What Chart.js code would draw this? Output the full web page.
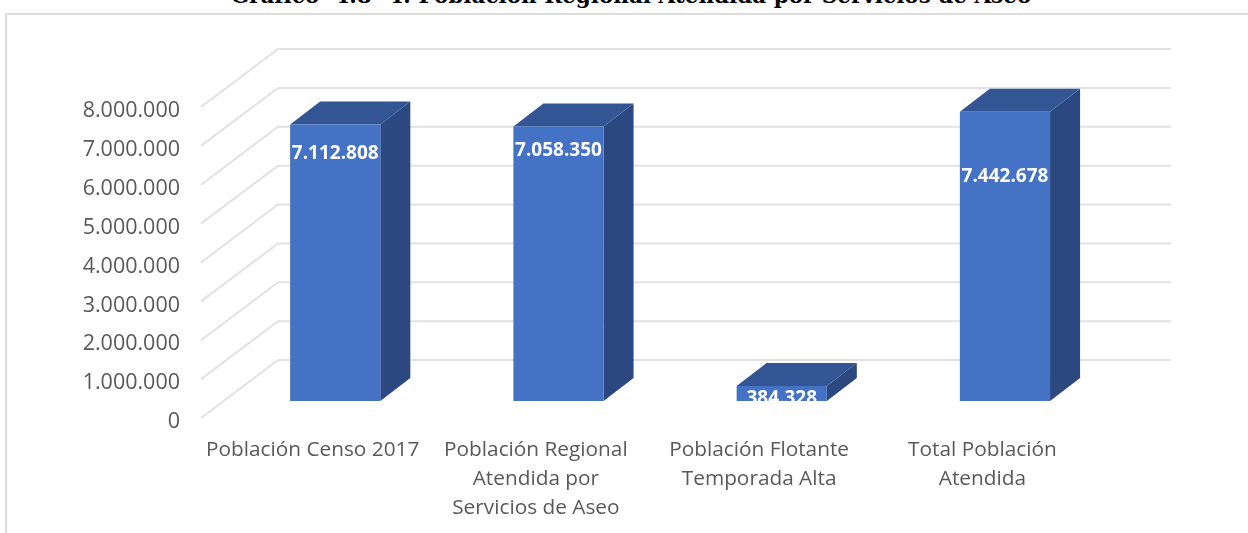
<!DOCTYPE html>
<html lang="es">
<head>
<meta charset="utf-8">
<title>Población Regional Atendida por Servicios de Aseo</title>
<script src="https://cdn.jsdelivr.net/npm/chart.js@4/dist/chart.umd.min.js"></script>
<style>
    html, body { margin: 0; padding: 0; background: #fff; overflow: hidden; }
    #wrap { position: relative; width: 1248px; height: 533px; overflow: hidden; }
    #frame { position: absolute; left: 5px; top: 13px; right: -4px; bottom: -4px; border: 2px solid #dcdcdc; }
    #chartTitle {
        position: absolute; left: 0; width: 1262px; top: -17px; text-align: center;
        font: bold 21.5px "DejaVu Serif", serif; color: #000; white-space: pre;
    }
    canvas { position: absolute; left: 0; top: 0; }
</style>
</head>
<body>
<div id="wrap">
    <div id="frame"></div>
    <div id="chartTitle">Gráfico  4.8- 4: Población Regional Atendida por Servicios de Aseo</div>
    <canvas id="poblacionChart" width="1248" height="533"></canvas>
</div>
<script>
const categories = [
    'Población Censo 2017',
    ['Población Regional', 'Atendida por', 'Servicios de Aseo'],
    ['Población Flotante', 'Temporada Alta'],
    ['Total Población', 'Atendida']
];
const poblacion = [7112808, 7058350, 384328, 7442678];
const yMax = 8000000;
const yStep = 1000000;

// label distance below each bar top, placed by hand in the original
const labelDrop = [29, 24, 13, 65];

// 3D look: front plane -> back wall, and bars sit part of the way in
const wallDepth = { x: 77, y: -58 };
const barShift = { x: 22.6, y: -17 };
const barDepth = { x: 30, y: -23 };

const formatMiles = (v) => String(v).replace(/\B(?=(\d{3})+(?!\d))/g, '.');

const walls3d = {
    id: 'walls3d',
    beforeDatasetsDraw(chart) {
        const { ctx, chartArea, scales: { y } } = chart;
        ctx.save();
        ctx.strokeStyle = '#e2e2e2';
        ctx.lineWidth = 2;
        y.ticks.forEach((tick) => {
            const py = y.getPixelForValue(tick.value);
            ctx.beginPath();
            ctx.moveTo(chartArea.left, py);
            ctx.lineTo(chartArea.left + wallDepth.x, py + wallDepth.y);
            ctx.lineTo(chartArea.right + wallDepth.x, py + wallDepth.y);
            ctx.stroke();
        });
        ctx.restore();
    }
};

const bars3d = {
    id: 'bars3d',
    beforeDatasetDraw(chart) {
        const { ctx } = chart;
        ctx.save();
        ctx.translate(barShift.x, barShift.y);
        chart.getDatasetMeta(0).data.forEach((bar) => {
            const left = bar.x - bar.width / 2;
            const right = bar.x + bar.width / 2;
            // side
            ctx.fillStyle = '#2b4880';
            ctx.beginPath();
            ctx.moveTo(right, bar.y);
            ctx.lineTo(right + barDepth.x, bar.y + barDepth.y);
            ctx.lineTo(right + barDepth.x, bar.base + barDepth.y);
            ctx.lineTo(right, bar.base);
            ctx.closePath();
            ctx.fill();
            // top
            ctx.fillStyle = '#335594';
            ctx.beginPath();
            ctx.moveTo(left, bar.y);
            ctx.lineTo(left + barDepth.x, bar.y + barDepth.y);
            ctx.lineTo(right + barDepth.x, bar.y + barDepth.y);
            ctx.lineTo(right, bar.y);
            ctx.closePath();
            ctx.fill();
        });
    },
    afterDatasetDraw(chart) {
        const { ctx } = chart;
        ctx.font = 'bold 19px "Open Sans", sans-serif';
        ctx.fillStyle = '#fff';
        ctx.textAlign = 'center';
        ctx.textBaseline = 'middle';
        chart.getDatasetMeta(0).data.forEach((bar, i) => {
            ctx.fillText(formatMiles(poblacion[i]), bar.x, bar.y + labelDrop[i]);
        });
        ctx.restore();
    }
};

new Chart(document.getElementById('poblacionChart'), {
    type: 'bar',
    data: {
        labels: categories,
        datasets: [{
            data: poblacion,
            backgroundColor: '#4472c4',
            categoryPercentage: 1,
            barPercentage: 0.404
        }]
    },
    options: {
        responsive: false,
        animation: false,
        layout: { padding: { top: 107, right: 154, bottom: 0, left: 0 } },
        plugins: { legend: { display: false }, tooltip: { enabled: false } },
        scales: {
            x: {
                grid: { display: false },
                border: { display: false },
                afterFit: (scale) => { scale.height = 115; },
                ticks: {
                    color: '#595959',
                    maxRotation: 0,
                    autoSkip: false,
                    padding: 9,
                    font: { family: '"Open Sans", sans-serif', size: 20.8, lineHeight: 1.41 }
                }
            },
            y: {
                min: 0,
                max: yMax,
                grid: { display: false },
                border: { display: false },
                afterFit: (scale) => { scale.width = 201; },
                ticks: {
                    stepSize: yStep,
                    color: '#595959',
                    padding: 13,
                    labelOffset: 4,
                    font: { family: '"Open Sans", sans-serif', size: 21.5 },
                    callback: (v) => formatMiles(v)
                }
            }
        }
    },
    plugins: [walls3d, bars3d]
});
</script>
</body>
</html>
